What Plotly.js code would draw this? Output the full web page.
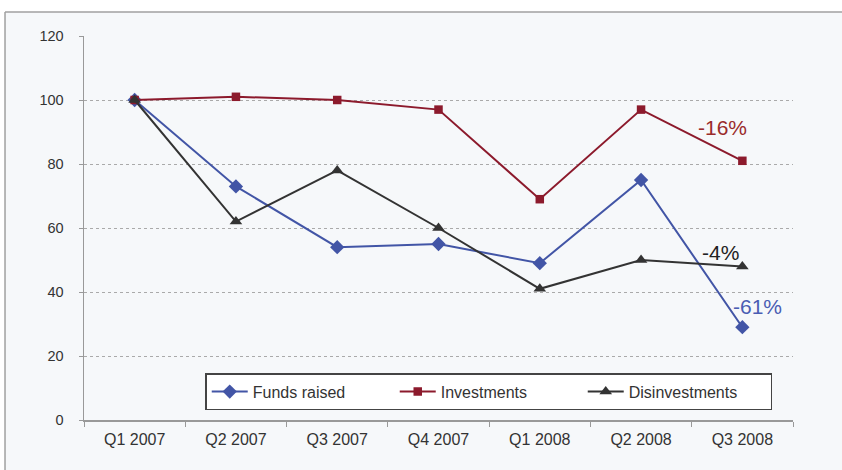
<!DOCTYPE html>
<html>
<head>
<meta charset="utf-8">
<script src="https://cdn.plot.ly/plotly-3.0.1.min.js"></script>
<style>
html,body{margin:0;padding:0;background:#fff;}
#chart{width:842px;height:470px;}
</style>
</head>
<body>
<div id="chart"></div>
<script>
const categories = ["Q1 2007","Q2 2007","Q3 2007","Q4 2007","Q1 2008","Q2 2008","Q3 2008"];
const fundsRaised = [100, 73, 54, 55, 49, 75, 29];
const investments = [100, 101, 100, 97, 69, 97, 81];
const disinvestments = [100, 62, 78, 60, 41, 50, 48];
const seriesNames = ["Funds raised", "Investments", "Disinvestments"];
const changeLabels = ["-61%", "-16%", "-4%"];

const colors = ["#4255a6", "#8c1a2c", "#333333"];
const symbols = ["diamond", "square", "triangle-up"];
const values = [fundsRaised, investments, disinvestments];

const traces = values.map((v, i) => ({
  type: "scatter",
  mode: "lines+markers",
  name: seriesNames[i],
  x: categories,
  y: v,
  line: {color: colors[i], width: 2},
  marker: {symbol: symbols[i], size: i === 1 ? 8.5 : 11, color: colors[i]},
  cliponaxis: false
}));

const layout = {
  width: 842, height: 470,
  margin: {l: 84, r: 49, t: 36, b: 50},
  paper_bgcolor: "#ffffff",
  plot_bgcolor: "rgba(0,0,0,0)",
  font: {family: "Liberation Sans, Arial, sans-serif", color: "#333"},
  showlegend: true,
  legend: {
    orientation: "h",
    x: 0.171, y: 0.122, xanchor: "left", yanchor: "top",
    bgcolor: "#ffffff",
    bordercolor: "#444",
    borderwidth: 1.5,
    font: {size: 16, color: "#333"},
    entrywidth: 137,
    entrywidthmode: "pixels",
    itemwidth: 36,
    traceorder: "normal"
  },
  xaxis: {
    type: "category",
    range: [-0.5, 6.5],
    showgrid: false,
    showline: true, linecolor: "#999", linewidth: 1.5,
    ticks: "outside", ticklen: 5, tickcolor: "#999",
    tickson: "boundaries",
    ticklabelstandoff: 4,
    tickfont: {size: 16, color: "#333"},
    fixedrange: true
  },
  yaxis: {
    range: [0, 120],
    tickvals: [0, 20, 40, 60, 80, 100, 120],
    showgrid: true, gridcolor: "#aaaaaa", griddash: "dot", gridwidth: 1,
    showline: true, linecolor: "#999", linewidth: 1.5,
    ticks: "outside", ticklen: 4, tickcolor: "#999",
    ticklabelstandoff: 12,
    tickfont: {size: 14.5, color: "#333"},
    zeroline: false,
    fixedrange: true
  },
  shapes: [
    {type: "rect", xref: "paper", yref: "paper", layer: "below",
     x0: -0.1114, x1: 1.2, y0: -0.3, y1: 1.0625,
     fillcolor: "#f6f8fa", line: {width: 0}},
    {type: "line", xref: "paper", yref: "paper", layer: "below",
     x0: -0.1114, x1: 1.2, y0: 1.0625, y1: 1.0625,
     line: {color: "#a0a0a0", width: 1.5}},
    {type: "line", xref: "paper", yref: "paper", layer: "below",
     x0: -0.1114, x1: -0.1114, y0: -0.3, y1: 1.0625,
     line: {color: "#a0a0a0", width: 1.5}}
  ],
  annotations: [
    {xref: "x", yref: "y", x: 6.15, y: 35.6, text: changeLabels[0], showarrow: false,
     font: {size: 21, color: "#4a5db3"}},
    {xref: "x", yref: "y", x: 5.80, y: 91.3, text: changeLabels[1], showarrow: false,
     font: {size: 21, color: "#9a2b2b"}},
    {xref: "x", yref: "y", x: 5.78, y: 52.2, text: changeLabels[2], showarrow: false,
     font: {size: 21, color: "#222"}}
  ]
};

Plotly.newPlot("chart", traces, layout, {displayModeBar: false, staticPlot: true});
</script>
</body>
</html>
